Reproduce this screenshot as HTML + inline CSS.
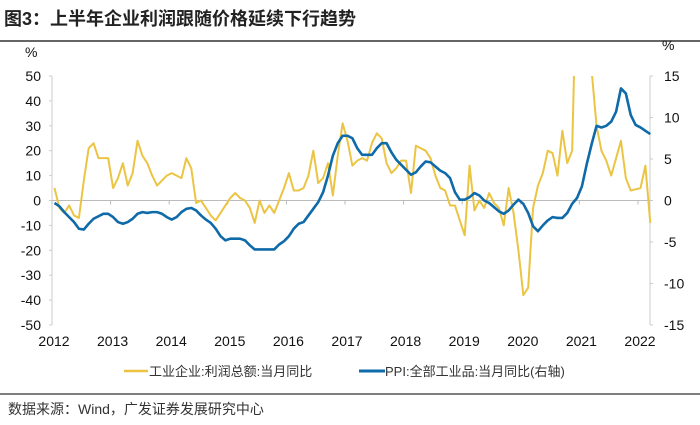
<!DOCTYPE html>
<html><head><meta charset="utf-8"><style>
body{margin:0;background:#fff;width:700px;height:420px;overflow:hidden;font-family:"Liberation Sans","Noto Sans CJK SC",sans-serif}
svg text{font-family:"Liberation Sans","Noto Sans CJK SC",sans-serif}
</style></head><body>
<svg width="700" height="420" viewBox="0 0 700 420">
<text x="4" y="25" font-size="18" font-weight="bold" fill="#222">图3：上半年企业利润跟随价格延续下行趋势</text>
<line x1="0" y1="41" x2="700" y2="41" stroke="#333" stroke-width="1.5"/>
<g id="axes"></g>
<g id="plot"></g>
<line x1="0" y1="394" x2="700" y2="394" stroke="#333" stroke-width="1.2"/>
<text x="8" y="414" font-size="14" fill="#333">数据来源：Wind，广发证券发展研究中心</text>
</svg>
<script>
const years=["2012","2013","2014","2015","2016","2017","2018","2019","2020","2021","2022"];
const leftTicks=[50,40,30,20,10,0,-10,-20,-30,-40,-50];
const rightTicks=[15,10,5,0,-5,-10,-15];
const profit=[5,-3,-5,-2,-6,-7,8,21,23,17,17,17,
5,9,15,6,11,24,18,15,10,6,8,10,
11,10,9,17,13,-1,0,-3,-6,-8,-5,-2,
1,3,1,0,-3,-9,0,-5,-2,-5,0,5,
11,4,4,5,10,20,7,9,15,2,18,31,
24,14,16,17,16,23,27,25,15,11,13,16,
16,3,22,21,20,17,10,5,4,-2,-2,-8,
-14,14,-4,0,-3,3,-1,-3,-10,5,-5,-20,
-38,-35,-3,6,11,20,19,10,28,15,20,100,
180,90,52,30,20,16,10,17,24,9,4,4.5,
5,14,-9];
const ppi=[-0.3,-0.7,-1.4,-2,-2.6,-3.4,-3.5,-2.8,-2.2,-1.9,-1.6,-1.6,
-2.0,-2.6,-2.8,-2.6,-2.2,-1.6,-1.4,-1.5,-1.4,-1.4,-1.6,-2.0,
-2.3,-2.0,-1.4,-1.0,-0.9,-1.2,-1.8,-2.3,-2.7,-3.4,-4.3,-4.8,
-4.6,-4.6,-4.6,-4.8,-5.4,-5.9,-5.9,-5.9,-5.9,-5.9,-5.3,-4.9,
-4.3,-3.4,-2.8,-2.6,-1.8,-1.0,-0.2,1.0,3.0,5.4,6.9,7.8,
7.8,7.5,6.3,5.5,5.5,5.5,6.3,6.9,6.9,5.8,4.9,4.3,
3.7,3.1,3.4,4.1,4.7,4.6,4.1,3.6,3.3,2.7,1.0,0.1,
0.1,0.4,0.9,0.6,0.0,-0.3,-0.8,-1.3,-1.6,-1.2,-0.5,0.1,
-0.4,-1.5,-3.1,-3.7,-3.0,-2.4,-2.0,-2.1,-2.1,-1.5,-0.4,0.3,
1.7,4.4,6.8,9.0,8.8,9.0,9.5,10.7,13.5,12.9,10.3,9.1,
8.8,8.4,8.0];
const NS="http://www.w3.org/2000/svg";
const X0=52,X1=650,YT=76,YB=325,YRS=58.6;
const xYear=i=>X0+YRS*i;
const xMonth=i=>54.5+YRS/12*i;
const yL=v=>200.5-v*(YB-YT)/100;
const yR=v=>200.5-v*(YB-YT)/30;
function mk(tag,attrs,parent){const e=document.createElementNS(NS,tag);for(const k in attrs)e.setAttribute(k,attrs[k]);parent.appendChild(e);return e;}
const axes=document.getElementById('axes'),plot=document.getElementById('plot');
let e;
e=mk('line',{x1:X0,y1:YT,x2:X0,y2:YB,stroke:'#ccc'},axes);


e=mk('line',{x1:X1,y1:YT,x2:X1,y2:YB,stroke:'#ccc'},axes);


e=mk('line',{x1:X0,y1:yL(0),x2:X1,y2:yL(0),stroke:'#bbb'},axes);


leftTicks.forEach(v=>{
 mk('line',{x1:X0-3,y1:yL(v),x2:X0,y2:yL(v),stroke:'#ccc'},axes);
 e=mk('text',{x:X0-11,y:yL(v)+5,'font-size':14,'text-anchor':'end',fill:'#111'},axes);
 e.textContent=v;
 
 
});
rightTicks.forEach(v=>{
 mk('line',{x1:X1,y1:yR(v),x2:X1+3,y2:yR(v),stroke:'#ccc'},axes);
 e=mk('text',{x:X1+14,y:yR(v)+5,'font-size':14,fill:'#111'},axes);
 e.textContent=v;
 
 
});
years.forEach((y,i)=>{
 mk('line',{x1:xYear(i),y1:yL(0),x2:xYear(i),y2:yL(0)+4,stroke:'#bbb'},axes);
 e=mk('text',{x:xYear(i)+2,y:346,'font-size':14,'text-anchor':'middle',fill:'#111'},axes);
 e.textContent=y;
 
 
});
e=mk('text',{x:25,y:57,'font-size':14,fill:'#111'},axes);e.textContent='%';


e=mk('text',{x:662,y:50,'font-size':14,fill:'#111'},axes);e.textContent='%';


mk('clipPath',{id:'clip'},plot);
mk('rect',{x:0,y:YT,width:700,height:YB-YT+5},plot.lastChild);
e=mk('polyline',{points:profit.map((v,i)=>xMonth(i)+','+yL(v)).join(' '),fill:'none',stroke:'#ecc444','stroke-width':2,'clip-path':'url(#clip)','stroke-linejoin':'round'},plot);


e=mk('polyline',{points:ppi.map((v,i)=>xMonth(i)+','+yR(v)).join(' '),fill:'none',stroke:'#0e6aa8','stroke-width':2.6,'stroke-linejoin':'round'},plot);


e=mk('line',{x1:124,y1:371,x2:148,y2:371,stroke:'#ecc444','stroke-width':2.5},plot);


e=mk('text',{x:149,y:376,'font-size':13,fill:'#333'},plot);e.textContent='工业企业:利润总额:当月同比';


e=mk('line',{x1:359,y1:371,x2:385,y2:371,stroke:'#0e6aa8','stroke-width':3},plot);


e=mk('text',{x:385,y:376,'font-size':13,fill:'#333'},plot);e.textContent='PPI:全部工业品:当月同比(右轴)';


</script>
</body></html>
